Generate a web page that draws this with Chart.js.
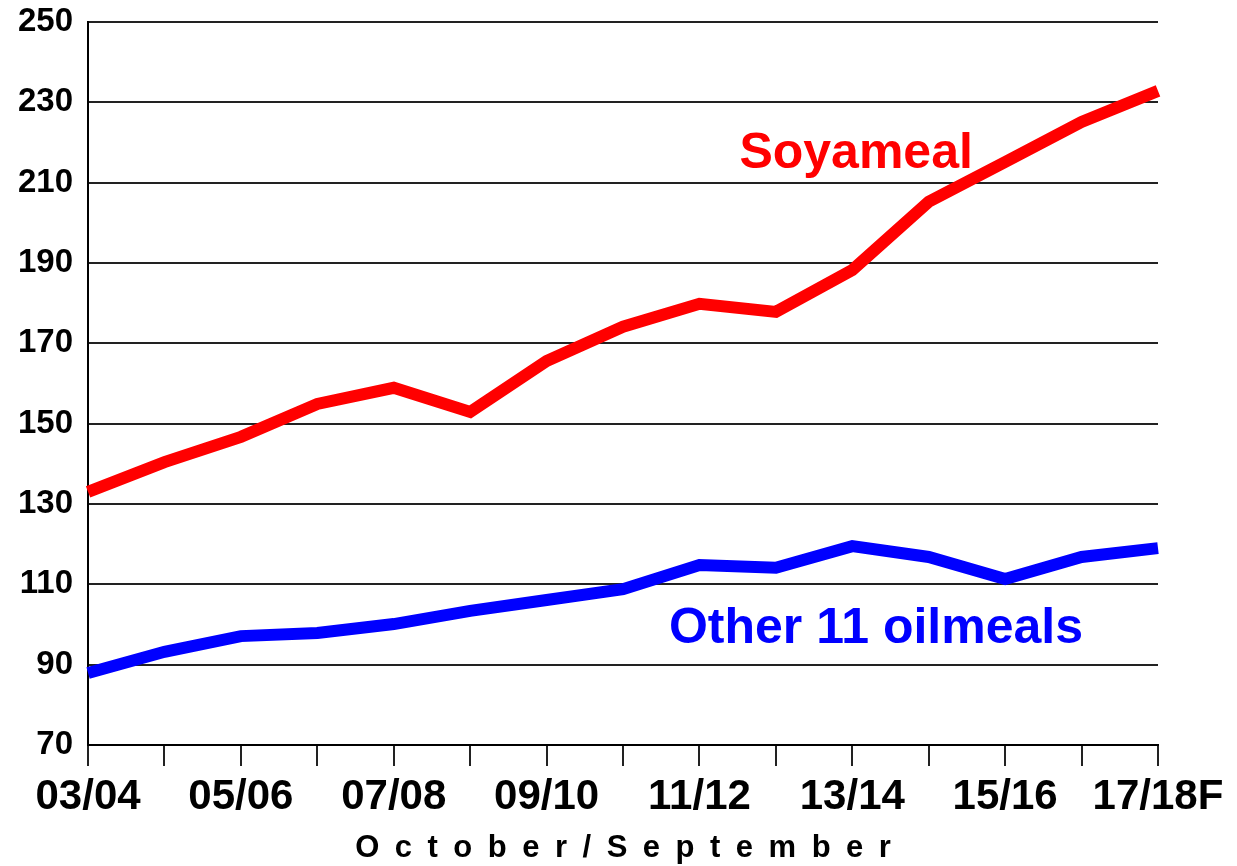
<!DOCTYPE html>
<html>
<head>
<meta charset="utf-8">
<script src="https://cdn.jsdelivr.net/npm/chart.js@4/dist/chart.umd.min.js"></script>
<style>
    body { margin: 0; background: #ffffff; }
</style>
</head>
<body>
<canvas id="graficoFarelos" width="1237" height="866"></canvas>
<script>
// anos safra (outubro / setembro)
const safras = ['03/04', '04/05', '05/06', '06/07', '07/08', '08/09', '09/10', '10/11',
    '11/12', '12/13', '13/14', '14/15', '15/16', '16/17', '17/18F'];

// valores
const soyameal = [133.0, 140.4, 146.7, 154.9, 158.9, 152.9, 165.6, 174.1,
    179.8, 177.8, 188.2, 205.2, 215.1, 225.1, 232.8];
const otherOilmeals = [87.9, 93.2, 97.1, 97.9, 100.1, 103.4, 106.1, 108.8,
    114.8, 114.1, 119.5, 116.8, 111.3, 116.8, 119.0];

// eixo y
const yMin = 70;
const yMax = 250;
const yStep = 20;

const fonte = "'Liberation Sans', Arial, sans-serif";

// titulo do eixo x com as letras espacadas (espaco "en" entre as letras)
const tituloX = 'October/September'.split('').join('\u2002');

// textos dentro do grafico, posicionados pelas escalas
const rotulosSeries = {
    id: 'rotulosSeries',
    afterDatasetsDraw(chart) {
        const ctx = chart.ctx;
        const x = chart.scales.x;
        const y = chart.scales.y;
        const rotulos = [
            { texto: 'Soyameal', cor: '#ff0000', i: 10.05, v: 213.6 },
            { texto: 'Other 11 oilmeals', cor: '#0000ff', i: 10.31, v: 95.4 }
        ];
        ctx.save();
        ctx.font = 'bold 50px ' + fonte;
        ctx.textAlign = 'center';
        ctx.textBaseline = 'alphabetic';
        rotulos.forEach(function (r) {
            ctx.fillStyle = r.cor;
            ctx.fillText(r.texto, x.getPixelForValue(r.i), y.getPixelForValue(r.v));
        });
        ctx.restore();
    }
};

const dados = {
    labels: safras,
    datasets: [
        {
            label: 'Soyameal',
            data: soyameal,
            borderColor: '#ff0000',
            borderWidth: 12,
            pointRadius: 0,
            tension: 0,
            borderJoinStyle: 'miter'
        },
        {
            label: 'Other 11 oilmeals',
            data: otherOilmeals,
            borderColor: '#0000ff',
            borderWidth: 12,
            pointRadius: 0,
            tension: 0,
            borderJoinStyle: 'miter'
        }
    ]
};

const config = {
    type: 'line',
    data: dados,
    options: {
        responsive: false,
        animation: false,
        layout: {
            padding: { top: 0, right: 79, bottom: 0, left: 16 }
        },
        scales: {
            x: {
                offset: false,
                grid: {
                    display: true,
                    drawOnChartArea: false,
                    drawTicks: true,
                    tickLength: 21,
                    color: '#222222',
                    lineWidth: 2
                },
                border: { display: true, color: '#000000', width: 2 },
                ticks: {
                    autoSkip: false,
                    maxRotation: 0,
                    padding: 10,
                    color: '#000000',
                    font: { family: fonte, size: 42, weight: 'bold', lineHeight: 1 },
                    callback: function (valor, indice) {
                        return indice % 2 === 0 ? safras[indice] : '';
                    }
                },
                title: {
                    display: true,
                    text: tituloX,
                    color: '#000000',
                    font: { family: fonte, size: 31, weight: 'bold', lineHeight: 1 },
                    padding: { top: 5, bottom: 2 }
                }
            },
            y: {
                min: yMin,
                max: yMax,
                grid: {
                    color: '#222222',
                    lineWidth: 2,
                    drawTicks: true,
                    tickLength: 13,
                    tickColor: 'rgba(0, 0, 0, 0)'
                },
                border: { display: true, color: '#000000', width: 2 },
                ticks: {
                    stepSize: yStep,
                    padding: 2,
                    color: '#000000',
                    font: { family: fonte, size: 33, weight: 'bold' }
                }
            }
        },
        plugins: {
            legend: { display: false },
            tooltip: { enabled: false }
        }
    },
    plugins: [rotulosSeries]
};

new Chart(document.getElementById('graficoFarelos').getContext('2d'), config);
</script>
</body>
</html>
